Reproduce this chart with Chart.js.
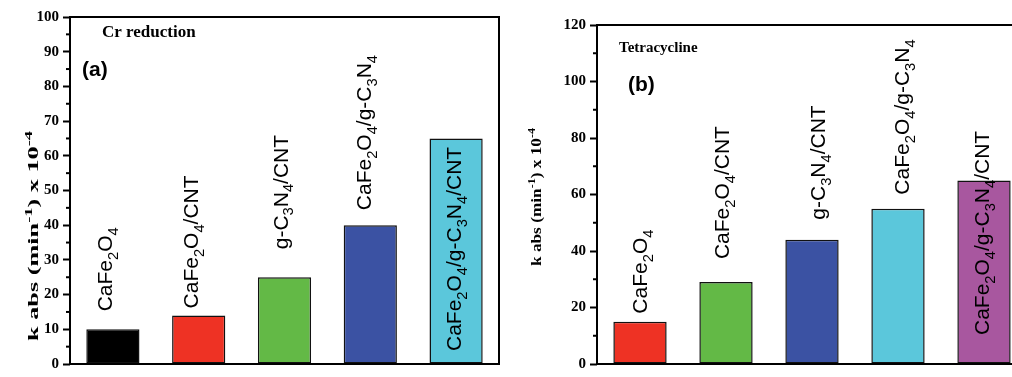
<!DOCTYPE html>
<html>
<head>
<meta charset="utf-8">
<script src="https://cdn.jsdelivr.net/npm/chart.js@4.4.1/dist/chart.umd.min.js"></script>
<style>
html, body { margin:0; padding:0; background:#fff; overflow:hidden; width:1012px; height:377px; position:relative; }
canvas { position:absolute; top:0; }
#chartA { left:0; }
#chartB { left:510px; }
</style>
</head>
<body>
<canvas id="chartA" width="505" height="377"></canvas>
<canvas id="chartB" width="530" height="377"></canvas>
<script>
// datos
const samples = ['CaFe_{2}O_{4}', 'CaFe_{2}O_{4}/CNT', 'g-C_{3}N_{4}/CNT', 'CaFe_{2}O_{4}/g-C_{3}N_{4}', 'CaFe_{2}O_{4}/g-C_{3}N_{4}/CNT'];
const kCr = [10, 14, 25, 40, 65];
const kTc = [15, 29, 44, 55, 65];
const ticksA = [0, 10, 20, 30, 40, 50, 60, 70, 80, 90, 100];
const ticksB = [0, 20, 40, 60, 80, 100, 120];
const yTitle = 'k abs (min^{-1}) x 10^{-4}';

const colorsA = ['#000000', '#EE3224', '#63B946', '#3B52A3', '#5BC7DB'];
const colorsB = ['#EE3224', '#63B946', '#3B52A3', '#5BC7DB', '#A8579F'];

// texto con sub/superindices: _{..} y ^{..}
function parseRich(str) {
  const runs = []; const re = /([_^])\{([^}]*)\}/g; let last = 0, m;
  while ((m = re.exec(str))) {
    if (m.index > last) runs.push({ t: str.slice(last, m.index), k: 0 });
    runs.push({ t: m[2], k: m[1] === '_' ? 1 : -1 });
    last = re.lastIndex;
  }
  if (last < str.length) runs.push({ t: str.slice(last), k: 0 });
  return runs;
}
function richFont(f, k) { return `${f.weight} ${k ? f.size * 0.7 : f.size}px ${f.family}`; }
function richWidth(ctx, runs, f) {
  let w = 0;
  runs.forEach(r => { ctx.font = richFont(f, r.k); w += ctx.measureText(r.t).width; });
  return w;
}
function drawRich(ctx, runs, f, x, y) {
  runs.forEach(r => {
    ctx.font = richFont(f, r.k);
    const dy = r.k === 1 ? f.size * 0.28 : r.k === -1 ? -f.size * 0.45 : 0;
    ctx.fillText(r.t, x, y + dy);
    x += ctx.measureText(r.t).width;
  });
}

const labelFont = { family: '"Liberation Sans", Arial, sans-serif', weight: 'normal', size: 21 };

function makePanel(id, values, colors, ticks, p) {
  const panelPlugin = {
    id: 'panel_' + id,
    afterDatasetsDraw(chart) {
      const ctx = chart.ctx, a = chart.chartArea, ys = chart.scales.y;
      const meta = chart.getDatasetMeta(0), base = ys.getPixelForValue(0);
      ctx.save();
      ctx.fillStyle = '#000';
      ctx.textAlign = 'left';
      ctx.textBaseline = 'alphabetic';
      // etiquetas de barras
      meta.data.forEach((bar, i) => {
        const L = p.labels[i];
        const y0 = L.inside != null ? base - L.inside : bar.y - L.gap;
        ctx.save();
        ctx.translate(bar.x + L.dx, y0);
        ctx.rotate(-Math.PI / 2);
        drawRich(ctx, parseRich(samples[i]), labelFont, 0, 0);
        ctx.restore();
      });
      // marco
      ctx.strokeStyle = '#000';
      ctx.lineWidth = 2;
      ctx.strokeRect(a.left, a.top, a.right - a.left, a.bottom - a.top);
      // ticks menores
      for (let i = 0; i < ticks.length - 1; i++) {
        const y = ys.getPixelForValue((ticks[i] + ticks[i + 1]) / 2);
        ctx.beginPath(); ctx.moveTo(a.left - 4, y); ctx.lineTo(a.left, y); ctx.stroke();
      }
      // titulo eje y (estirado como en la figura)
      const runs = parseRich(yTitle);
      const w = richWidth(ctx, runs, p.titleFont);
      ctx.save();
      ctx.translate(p.titleX, p.titleY);
      ctx.rotate(-Math.PI / 2);
      ctx.scale(p.titleLen / w, 1);
      drawRich(ctx, runs, p.titleFont, -w / 2, 0);
      ctx.restore();
      // textos
      ctx.textBaseline = 'middle';
      p.notes.forEach(n => {
        ctx.font = n.font;
        ctx.fillText(n.text, a.left + n.dx, a.top + n.dy);
      });
      ctx.restore();
    }
  };

  return new Chart(document.getElementById(id), {
    type: 'bar',
    data: {
      labels: samples,
      datasets: [{
        data: values,
        backgroundColor: colors,
        borderColor: '#111',
        borderWidth: 1.5,
        borderSkipped: false,
        barPercentage: 0.62,
        categoryPercentage: 1
      }]
    },
    options: {
      responsive: false,
      animation: false,
      layout: { padding: p.padding },
      plugins: { legend: { display: false }, tooltip: { enabled: false } },
      scales: {
        x: {
          offset: true,
          grid: { display: false },
          border: { display: false },
          ticks: { display: false },
          afterFit: s => { s.height = 0; }
        },
        y: {
          min: ticks[0],
          max: ticks[ticks.length - 1],
          afterBuildTicks: s => { s.ticks = ticks.map(v => ({ value: v })); },
          afterFit: s => { s.width = p.axisWidth; },
          border: { display: false },
          grid: { drawOnChartArea: false, drawTicks: true, tickLength: 7, tickWidth: 2, color: '#000' },
          ticks: {
            color: '#000',
            padding: 4,
            font: { family: '"Liberation Serif", "Times New Roman", serif', weight: 'bold', size: 15 }
          }
        }
      }
    },
    plugins: [panelPlugin]
  });
}

makePanel('chartA', kCr, colorsA, ticksA, {
  padding: { top: 17, right: 6, bottom: 11, left: 0 },
  axisWidth: 70,
  titleX: 38, titleY: 236, titleLen: 210,
  titleFont: { family: '"Liberation Serif", serif', weight: 'bold', size: 14 },
  labels: [{ dx: -1, gap: 18 }, { dx: -1, gap: 7 }, { dx: 3, gap: 28 }, { dx: 1, gap: 15 }, { dx: 5, inside: 13 }],
  notes: [
    { text: 'Cr reduction', font: 'bold 17px "Liberation Serif", serif', dx: 32, dy: 16 },
    { text: '(a)', font: 'bold 21px "Liberation Sans", Arial, sans-serif', dx: 12, dy: 53 }
  ]
});

makePanel('chartB', kTc, colorsB, ticksB, {
  padding: { top: 25, right: 13, bottom: 3, left: 0 },
  axisWidth: 87,
  titleX: 31, titleY: 197, titleLen: 138,
  titleFont: { family: '"Liberation Serif", serif', weight: 'bold', size: 14 },
  labels: [{ dx: 7, gap: 8 }, { dx: 3, gap: 23 }, { dx: 13, gap: 20 }, { dx: 11, gap: 14 }, { dx: 5, inside: 29 }],
  notes: [
    { text: 'Tetracycline', font: 'bold 15px "Liberation Serif", serif', dx: 22, dy: 23 },
    { text: '(b)', font: 'bold 21px "Liberation Sans", Arial, sans-serif', dx: 31, dy: 60 }
  ]
});
</script>
</body>
</html>
